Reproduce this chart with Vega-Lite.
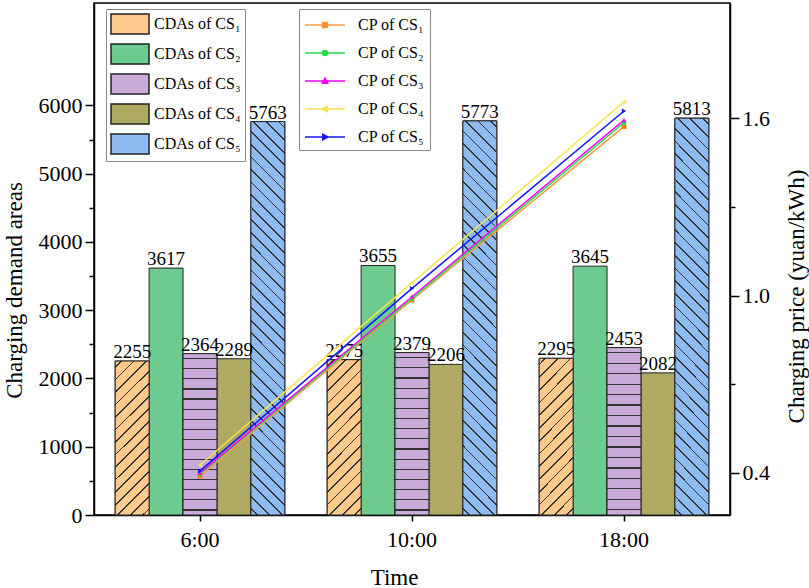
{
  "$schema": "https://vega.github.io/schema/vega-lite/v6.json",
  "width": 636,
  "height": 512,
  "autosize": {"type": "none"},
  "padding": {"left": 94, "top": 3, "right": 79, "bottom": 73},
  "background": "white",
  "datasets": {
    "cda": [
      {"time": "6:00", "cs": "CS₁", "cda": 2255},
      {"time": "6:00", "cs": "CS₂", "cda": 3617},
      {"time": "6:00", "cs": "CS₃", "cda": 2364},
      {"time": "6:00", "cs": "CS₄", "cda": 2289},
      {"time": "6:00", "cs": "CS₅", "cda": 5763},
      {"time": "10:00", "cs": "CS₁", "cda": 2275},
      {"time": "10:00", "cs": "CS₂", "cda": 3655},
      {"time": "10:00", "cs": "CS₃", "cda": 2379},
      {"time": "10:00", "cs": "CS₄", "cda": 2206},
      {"time": "10:00", "cs": "CS₅", "cda": 5773},
      {"time": "18:00", "cs": "CS₁", "cda": 2295},
      {"time": "18:00", "cs": "CS₂", "cda": 3645},
      {"time": "18:00", "cs": "CS₃", "cda": 2453},
      {"time": "18:00", "cs": "CS₄", "cda": 2082},
      {"time": "18:00", "cs": "CS₅", "cda": 5813}
    ],
    "cp": [
      {"time": "6:00", "series": "CS₁", "cp": 0.39},
      {"time": "10:00", "series": "CS₁", "cp": 0.985},
      {"time": "18:00", "series": "CS₁", "cp": 1.571},
      {"time": "6:00", "series": "CS₂", "cp": 0.397},
      {"time": "10:00", "series": "CS₂", "cp": 0.99},
      {"time": "18:00", "series": "CS₂", "cp": 1.584},
      {"time": "6:00", "series": "CS₃", "cp": 0.4},
      {"time": "10:00", "series": "CS₃", "cp": 0.996},
      {"time": "18:00", "series": "CS₃", "cp": 1.593},
      {"time": "6:00", "series": "CS₄", "cp": 0.427},
      {"time": "10:00", "series": "CS₄", "cp": 1.043},
      {"time": "18:00", "series": "CS₄", "cp": 1.655},
      {"time": "6:00", "series": "CS₅", "cp": 0.407},
      {"time": "10:00", "series": "CS₅", "cp": 1.024},
      {"time": "18:00", "series": "CS₅", "cp": 1.624}
    ]
  },
  "layer": [
    {
      "data": {"name": "cda"},
      "encoding": {
        "x": {
          "field": "time", "type": "nominal", "sort": ["6:00", "10:00", "18:00"],
          "scale": {"paddingInner": 0.2, "paddingOuter": 0.1},
          "axis": {"title": "Time", "labelAngle": 0, "tickSize": 6, "labelPadding": 8, "titleX": 300, "titleY": 62, "titleBaseline": "middle"}
        },
        "xOffset": {
          "field": "cs", "type": "nominal", "sort": ["CS₁", "CS₂", "CS₃", "CS₄", "CS₅"],
          "scale": {"paddingInner": 0, "paddingOuter": 0}
        },
        "y": {
          "field": "cda", "type": "quantitative",
          "scale": {"domain": [0, 7500], "nice": false},
          "axis": {
            "title": "Charging demand areas",
            "values": [0, 500, 1000, 1500, 2000, 2500, 3000, 3500, 4000, 4500, 5000, 5500, 6000],
            "labelExpr": "datum.value % 1000 === 0 ? format(datum.value, 'd') : ''",
            "tickSize": {"condition": {"test": "datum.value % 1000 === 0", "value": 9}, "value": 5},
            "labelPadding": 3,
            "titleX": -80, "titleY": 287, "titleBaseline": "middle", "titleAngle": 270
          }
        }
      },
      "layer": [
        {
          "mark": {"type": "bar", "stroke": "#222222", "strokeWidth": 1},
          "encoding": {
            "fill": {
              "field": "cs", "type": "nominal",
              "scale": {"domain": ["CS₁", "CS₂", "CS₃", "CS₄", "CS₅"], "range": ["#FFC98C", "#6DCB8F", "#C9ABD9", "#AFAA63", "#8EBCF2"]},
              "legend": {
                "title": null, "orient": "none", "legendX": 12, "legendY": 6,
                "symbolType": "M-1,-1H2.8V1H-1Z", "symbolSize": 400,
                "labelOffset": 22, "rowPadding": 4,
                "labelExpr": "'CDAs of ' + datum.label",
                "encode": {
                  "symbols": {
                    "update": {
                      "stroke": {"value": "#333333"},
                      "strokeWidth": {"value": 1},
                      "fill": [
                        {
                          "test": "datum.value === 'CS₁'",
                          "value": {
                            "gradient": "linear", "x1": 0, "y1": 0, "x2": 1.195, "y2": 0.629,
                            "stops": [
                              {"offset": 0, "color": "#FFC98C"},
                              {"offset": 0.11, "color": "#FFC98C"}, {"offset": 0.11, "color": "#333333"}, {"offset": 0.14, "color": "#333333"}, {"offset": 0.14, "color": "#FFC98C"},
                              {"offset": 0.36, "color": "#FFC98C"}, {"offset": 0.36, "color": "#333333"}, {"offset": 0.39, "color": "#333333"}, {"offset": 0.39, "color": "#FFC98C"},
                              {"offset": 0.61, "color": "#FFC98C"}, {"offset": 0.61, "color": "#333333"}, {"offset": 0.64, "color": "#333333"}, {"offset": 0.64, "color": "#FFC98C"},
                              {"offset": 0.86, "color": "#FFC98C"}, {"offset": 0.86, "color": "#333333"}, {"offset": 0.89, "color": "#333333"}, {"offset": 0.89, "color": "#FFC98C"},
                              {"offset": 1, "color": "#FFC98C"}
                            ]
                          }
                        },
                        {"test": "datum.value === 'CS₂'", "value": "#6DCB8F"},
                        {
                          "test": "datum.value === 'CS₃'",
                          "value": {
                            "gradient": "linear", "x1": 0, "y1": 0, "x2": 0, "y2": 1,
                            "stops": [
                              {"offset": 0, "color": "#C9ABD9"},
                              {"offset": 0.47, "color": "#C9ABD9"}, {"offset": 0.47, "color": "#333333"}, {"offset": 0.53, "color": "#333333"}, {"offset": 0.53, "color": "#C9ABD9"},
                              {"offset": 1, "color": "#C9ABD9"}
                            ]
                          }
                        },
                        {"test": "datum.value === 'CS₄'", "value": "#AFAA63"},
                        {
                          "value": {
                            "gradient": "linear", "x1": 0, "y1": 1, "x2": 1.195, "y2": 0.371,
                            "stops": [
                              {"offset": 0, "color": "#8EBCF2"},
                              {"offset": 0.11, "color": "#8EBCF2"}, {"offset": 0.11, "color": "#333333"}, {"offset": 0.14, "color": "#333333"}, {"offset": 0.14, "color": "#8EBCF2"},
                              {"offset": 0.36, "color": "#8EBCF2"}, {"offset": 0.36, "color": "#333333"}, {"offset": 0.39, "color": "#333333"}, {"offset": 0.39, "color": "#8EBCF2"},
                              {"offset": 0.61, "color": "#8EBCF2"}, {"offset": 0.61, "color": "#333333"}, {"offset": 0.64, "color": "#333333"}, {"offset": 0.64, "color": "#8EBCF2"},
                              {"offset": 0.86, "color": "#8EBCF2"}, {"offset": 0.86, "color": "#333333"}, {"offset": 0.89, "color": "#333333"}, {"offset": 0.89, "color": "#8EBCF2"},
                              {"offset": 1, "color": "#8EBCF2"}
                            ]
                          }
                        }
                      ]
                    }
                  }
                }
              }
            }
          }
        },
        {
          "transform": [{"filter": {"field": "cs", "oneOf": ["CS₁", "CS₃", "CS₅"]}}],
          "mark": {"type": "bar", "stroke": "#222222", "strokeWidth": 1},
          "encoding": {
            "fill": {
              "condition": [
                {
                  "test": "datum.cs === 'CS₁'",
                  "value": {
                    "gradient": "linear", "x1": 0, "y1": 0, "x2": 0.2553, "y2": 1.1634,
                    "stops": [
                      {"offset": 0, "color": "#FFC98C"},
                      {"offset": 0.0288, "color": "#FFC98C"}, {"offset": 0.0288, "color": "#333333"}, {"offset": 0.0378, "color": "#333333"}, {"offset": 0.0378, "color": "#FFC98C"},
                      {"offset": 0.0955, "color": "#FFC98C"}, {"offset": 0.0955, "color": "#333333"}, {"offset": 0.1045, "color": "#333333"}, {"offset": 0.1045, "color": "#FFC98C"},
                      {"offset": 0.1622, "color": "#FFC98C"}, {"offset": 0.1622, "color": "#333333"}, {"offset": 0.1712, "color": "#333333"}, {"offset": 0.1712, "color": "#FFC98C"},
                      {"offset": 0.2288, "color": "#FFC98C"}, {"offset": 0.2288, "color": "#333333"}, {"offset": 0.2378, "color": "#333333"}, {"offset": 0.2378, "color": "#FFC98C"},
                      {"offset": 0.2955, "color": "#FFC98C"}, {"offset": 0.2955, "color": "#333333"}, {"offset": 0.3045, "color": "#333333"}, {"offset": 0.3045, "color": "#FFC98C"},
                      {"offset": 0.3622, "color": "#FFC98C"}, {"offset": 0.3622, "color": "#333333"}, {"offset": 0.3712, "color": "#333333"}, {"offset": 0.3712, "color": "#FFC98C"},
                      {"offset": 0.4288, "color": "#FFC98C"}, {"offset": 0.4288, "color": "#333333"}, {"offset": 0.4378, "color": "#333333"}, {"offset": 0.4378, "color": "#FFC98C"},
                      {"offset": 0.4955, "color": "#FFC98C"}, {"offset": 0.4955, "color": "#333333"}, {"offset": 0.5045, "color": "#333333"}, {"offset": 0.5045, "color": "#FFC98C"},
                      {"offset": 0.5622, "color": "#FFC98C"}, {"offset": 0.5622, "color": "#333333"}, {"offset": 0.5712, "color": "#333333"}, {"offset": 0.5712, "color": "#FFC98C"},
                      {"offset": 0.6288, "color": "#FFC98C"}, {"offset": 0.6288, "color": "#333333"}, {"offset": 0.6378, "color": "#333333"}, {"offset": 0.6378, "color": "#FFC98C"},
                      {"offset": 0.6955, "color": "#FFC98C"}, {"offset": 0.6955, "color": "#333333"}, {"offset": 0.7045, "color": "#333333"}, {"offset": 0.7045, "color": "#FFC98C"},
                      {"offset": 0.7622, "color": "#FFC98C"}, {"offset": 0.7622, "color": "#333333"}, {"offset": 0.7712, "color": "#333333"}, {"offset": 0.7712, "color": "#FFC98C"},
                      {"offset": 0.8288, "color": "#FFC98C"}, {"offset": 0.8288, "color": "#333333"}, {"offset": 0.8378, "color": "#333333"}, {"offset": 0.8378, "color": "#FFC98C"},
                      {"offset": 0.8955, "color": "#FFC98C"}, {"offset": 0.8955, "color": "#333333"}, {"offset": 0.9045, "color": "#333333"}, {"offset": 0.9045, "color": "#FFC98C"},
                      {"offset": 0.9622, "color": "#FFC98C"}, {"offset": 0.9622, "color": "#333333"}, {"offset": 0.9712, "color": "#333333"}, {"offset": 0.9712, "color": "#FFC98C"},
                      {"offset": 1, "color": "#FFC98C"}
                    ]
                  }
                },
                {
                  "test": "datum.cs === 'CS₃'",
                  "value": {
                    "gradient": "linear", "x1": 0, "y1": 0, "x2": 0, "y2": 1,
                    "stops": [
                      {"offset": 0, "color": "#C9ABD9"},
                      {"offset": 0.0276, "color": "#C9ABD9"}, {"offset": 0.0276, "color": "#333333"}, {"offset": 0.035, "color": "#333333"}, {"offset": 0.035, "color": "#C9ABD9"},
                      {"offset": 0.0901, "color": "#C9ABD9"}, {"offset": 0.0901, "color": "#333333"}, {"offset": 0.0975, "color": "#333333"}, {"offset": 0.0975, "color": "#C9ABD9"},
                      {"offset": 0.1526, "color": "#C9ABD9"}, {"offset": 0.1526, "color": "#333333"}, {"offset": 0.16, "color": "#333333"}, {"offset": 0.16, "color": "#C9ABD9"},
                      {"offset": 0.2151, "color": "#C9ABD9"}, {"offset": 0.2151, "color": "#333333"}, {"offset": 0.2225, "color": "#333333"}, {"offset": 0.2225, "color": "#C9ABD9"},
                      {"offset": 0.2776, "color": "#C9ABD9"}, {"offset": 0.2776, "color": "#333333"}, {"offset": 0.285, "color": "#333333"}, {"offset": 0.285, "color": "#C9ABD9"},
                      {"offset": 0.3401, "color": "#C9ABD9"}, {"offset": 0.3401, "color": "#333333"}, {"offset": 0.3475, "color": "#333333"}, {"offset": 0.3475, "color": "#C9ABD9"},
                      {"offset": 0.4026, "color": "#C9ABD9"}, {"offset": 0.4026, "color": "#333333"}, {"offset": 0.41, "color": "#333333"}, {"offset": 0.41, "color": "#C9ABD9"},
                      {"offset": 0.4651, "color": "#C9ABD9"}, {"offset": 0.4651, "color": "#333333"}, {"offset": 0.4725, "color": "#333333"}, {"offset": 0.4725, "color": "#C9ABD9"},
                      {"offset": 0.5276, "color": "#C9ABD9"}, {"offset": 0.5276, "color": "#333333"}, {"offset": 0.535, "color": "#333333"}, {"offset": 0.535, "color": "#C9ABD9"},
                      {"offset": 0.5901, "color": "#C9ABD9"}, {"offset": 0.5901, "color": "#333333"}, {"offset": 0.5975, "color": "#333333"}, {"offset": 0.5975, "color": "#C9ABD9"},
                      {"offset": 0.6526, "color": "#C9ABD9"}, {"offset": 0.6526, "color": "#333333"}, {"offset": 0.66, "color": "#333333"}, {"offset": 0.66, "color": "#C9ABD9"},
                      {"offset": 0.7151, "color": "#C9ABD9"}, {"offset": 0.7151, "color": "#333333"}, {"offset": 0.7225, "color": "#333333"}, {"offset": 0.7225, "color": "#C9ABD9"},
                      {"offset": 0.7776, "color": "#C9ABD9"}, {"offset": 0.7776, "color": "#333333"}, {"offset": 0.785, "color": "#333333"}, {"offset": 0.785, "color": "#C9ABD9"},
                      {"offset": 0.8401, "color": "#C9ABD9"}, {"offset": 0.8401, "color": "#333333"}, {"offset": 0.8475, "color": "#333333"}, {"offset": 0.8475, "color": "#C9ABD9"},
                      {"offset": 0.9026, "color": "#C9ABD9"}, {"offset": 0.9026, "color": "#333333"}, {"offset": 0.91, "color": "#333333"}, {"offset": 0.91, "color": "#C9ABD9"},
                      {"offset": 0.9651, "color": "#C9ABD9"}, {"offset": 0.9651, "color": "#333333"}, {"offset": 0.9725, "color": "#333333"}, {"offset": 0.9725, "color": "#C9ABD9"},
                      {"offset": 1, "color": "#C9ABD9"}
                    ]
                  }
                }
              ],
              "value": {
                "gradient": "linear", "x1": 0, "y1": 1, "x2": 0.0931, "y2": -0.0783,
                "stops": [
                  {"offset": 0, "color": "#8EBCF2"},
                  {"offset": 0.0127, "color": "#8EBCF2"}, {"offset": 0.0127, "color": "#333333"}, {"offset": 0.0167, "color": "#333333"}, {"offset": 0.0167, "color": "#8EBCF2"},
                  {"offset": 0.0421, "color": "#8EBCF2"}, {"offset": 0.0421, "color": "#333333"}, {"offset": 0.0461, "color": "#333333"}, {"offset": 0.0461, "color": "#8EBCF2"},
                  {"offset": 0.0715, "color": "#8EBCF2"}, {"offset": 0.0715, "color": "#333333"}, {"offset": 0.0755, "color": "#333333"}, {"offset": 0.0755, "color": "#8EBCF2"},
                  {"offset": 0.1009, "color": "#8EBCF2"}, {"offset": 0.1009, "color": "#333333"}, {"offset": 0.1049, "color": "#333333"}, {"offset": 0.1049, "color": "#8EBCF2"},
                  {"offset": 0.1304, "color": "#8EBCF2"}, {"offset": 0.1304, "color": "#333333"}, {"offset": 0.1344, "color": "#333333"}, {"offset": 0.1344, "color": "#8EBCF2"},
                  {"offset": 0.1598, "color": "#8EBCF2"}, {"offset": 0.1598, "color": "#333333"}, {"offset": 0.1638, "color": "#333333"}, {"offset": 0.1638, "color": "#8EBCF2"},
                  {"offset": 0.1892, "color": "#8EBCF2"}, {"offset": 0.1892, "color": "#333333"}, {"offset": 0.1932, "color": "#333333"}, {"offset": 0.1932, "color": "#8EBCF2"},
                  {"offset": 0.2186, "color": "#8EBCF2"}, {"offset": 0.2186, "color": "#333333"}, {"offset": 0.2226, "color": "#333333"}, {"offset": 0.2226, "color": "#8EBCF2"},
                  {"offset": 0.248, "color": "#8EBCF2"}, {"offset": 0.248, "color": "#333333"}, {"offset": 0.252, "color": "#333333"}, {"offset": 0.252, "color": "#8EBCF2"},
                  {"offset": 0.2774, "color": "#8EBCF2"}, {"offset": 0.2774, "color": "#333333"}, {"offset": 0.2814, "color": "#333333"}, {"offset": 0.2814, "color": "#8EBCF2"},
                  {"offset": 0.3068, "color": "#8EBCF2"}, {"offset": 0.3068, "color": "#333333"}, {"offset": 0.3108, "color": "#333333"}, {"offset": 0.3108, "color": "#8EBCF2"},
                  {"offset": 0.3362, "color": "#8EBCF2"}, {"offset": 0.3362, "color": "#333333"}, {"offset": 0.3402, "color": "#333333"}, {"offset": 0.3402, "color": "#8EBCF2"},
                  {"offset": 0.3656, "color": "#8EBCF2"}, {"offset": 0.3656, "color": "#333333"}, {"offset": 0.3696, "color": "#333333"}, {"offset": 0.3696, "color": "#8EBCF2"},
                  {"offset": 0.3951, "color": "#8EBCF2"}, {"offset": 0.3951, "color": "#333333"}, {"offset": 0.3991, "color": "#333333"}, {"offset": 0.3991, "color": "#8EBCF2"},
                  {"offset": 0.4245, "color": "#8EBCF2"}, {"offset": 0.4245, "color": "#333333"}, {"offset": 0.4285, "color": "#333333"}, {"offset": 0.4285, "color": "#8EBCF2"},
                  {"offset": 0.4539, "color": "#8EBCF2"}, {"offset": 0.4539, "color": "#333333"}, {"offset": 0.4579, "color": "#333333"}, {"offset": 0.4579, "color": "#8EBCF2"},
                  {"offset": 0.4833, "color": "#8EBCF2"}, {"offset": 0.4833, "color": "#333333"}, {"offset": 0.4873, "color": "#333333"}, {"offset": 0.4873, "color": "#8EBCF2"},
                  {"offset": 0.5127, "color": "#8EBCF2"}, {"offset": 0.5127, "color": "#333333"}, {"offset": 0.5167, "color": "#333333"}, {"offset": 0.5167, "color": "#8EBCF2"},
                  {"offset": 0.5421, "color": "#8EBCF2"}, {"offset": 0.5421, "color": "#333333"}, {"offset": 0.5461, "color": "#333333"}, {"offset": 0.5461, "color": "#8EBCF2"},
                  {"offset": 0.5715, "color": "#8EBCF2"}, {"offset": 0.5715, "color": "#333333"}, {"offset": 0.5755, "color": "#333333"}, {"offset": 0.5755, "color": "#8EBCF2"},
                  {"offset": 0.6009, "color": "#8EBCF2"}, {"offset": 0.6009, "color": "#333333"}, {"offset": 0.6049, "color": "#333333"}, {"offset": 0.6049, "color": "#8EBCF2"},
                  {"offset": 0.6304, "color": "#8EBCF2"}, {"offset": 0.6304, "color": "#333333"}, {"offset": 0.6344, "color": "#333333"}, {"offset": 0.6344, "color": "#8EBCF2"},
                  {"offset": 0.6598, "color": "#8EBCF2"}, {"offset": 0.6598, "color": "#333333"}, {"offset": 0.6638, "color": "#333333"}, {"offset": 0.6638, "color": "#8EBCF2"},
                  {"offset": 0.6892, "color": "#8EBCF2"}, {"offset": 0.6892, "color": "#333333"}, {"offset": 0.6932, "color": "#333333"}, {"offset": 0.6932, "color": "#8EBCF2"},
                  {"offset": 0.7186, "color": "#8EBCF2"}, {"offset": 0.7186, "color": "#333333"}, {"offset": 0.7226, "color": "#333333"}, {"offset": 0.7226, "color": "#8EBCF2"},
                  {"offset": 0.748, "color": "#8EBCF2"}, {"offset": 0.748, "color": "#333333"}, {"offset": 0.752, "color": "#333333"}, {"offset": 0.752, "color": "#8EBCF2"},
                  {"offset": 0.7774, "color": "#8EBCF2"}, {"offset": 0.7774, "color": "#333333"}, {"offset": 0.7814, "color": "#333333"}, {"offset": 0.7814, "color": "#8EBCF2"},
                  {"offset": 0.8068, "color": "#8EBCF2"}, {"offset": 0.8068, "color": "#333333"}, {"offset": 0.8108, "color": "#333333"}, {"offset": 0.8108, "color": "#8EBCF2"},
                  {"offset": 0.8362, "color": "#8EBCF2"}, {"offset": 0.8362, "color": "#333333"}, {"offset": 0.8402, "color": "#333333"}, {"offset": 0.8402, "color": "#8EBCF2"},
                  {"offset": 0.8656, "color": "#8EBCF2"}, {"offset": 0.8656, "color": "#333333"}, {"offset": 0.8696, "color": "#333333"}, {"offset": 0.8696, "color": "#8EBCF2"},
                  {"offset": 0.8951, "color": "#8EBCF2"}, {"offset": 0.8951, "color": "#333333"}, {"offset": 0.8991, "color": "#333333"}, {"offset": 0.8991, "color": "#8EBCF2"},
                  {"offset": 0.9245, "color": "#8EBCF2"}, {"offset": 0.9245, "color": "#333333"}, {"offset": 0.9285, "color": "#333333"}, {"offset": 0.9285, "color": "#8EBCF2"},
                  {"offset": 0.9539, "color": "#8EBCF2"}, {"offset": 0.9539, "color": "#333333"}, {"offset": 0.9579, "color": "#333333"}, {"offset": 0.9579, "color": "#8EBCF2"},
                  {"offset": 0.9833, "color": "#8EBCF2"}, {"offset": 0.9833, "color": "#333333"}, {"offset": 0.9873, "color": "#333333"}, {"offset": 0.9873, "color": "#8EBCF2"},
                  {"offset": 1, "color": "#8EBCF2"}
                ]
              }
            }
          }
        },
        {
          "mark": {"type": "text", "baseline": "alphabetic", "dy": -3, "font": "Liberation Serif", "fontSize": 19, "color": "black"},
          "encoding": {"text": {"field": "cda", "type": "quantitative", "format": "d"}}
        }
      ]
    },
    {
      "data": {"name": "cp"},
      "encoding": {
        "x": {"field": "time", "type": "nominal", "sort": ["6:00", "10:00", "18:00"]},
        "y": {
          "field": "cp", "type": "quantitative",
          "scale": {"domain": [0.258, 1.989], "nice": false, "zero": false},
          "axis": {
            "orient": "right",
            "title": "Charging price (yuan/kWh)",
            "values": [0.4, 0.7, 1.0, 1.3, 1.6],
            "labelExpr": "(abs(datum.value - 0.7) < 0.01 || abs(datum.value - 1.3) < 0.01) ? '' : format(datum.value, '.1f')",
            "tickSize": {"condition": {"test": "abs(datum.value - 0.7) < 0.01 || abs(datum.value - 1.3) < 0.01", "value": 5}, "value": 9},
            "labelPadding": 3,
            "titleAngle": 270, "titleX": 66, "titleY": 293, "titleBaseline": "middle"
          }
        }
      },
      "layer": [
        {
          "mark": {"type": "line", "strokeWidth": 1.5},
          "encoding": {
            "order": {"value": null},
            "stroke": {
              "field": "series", "type": "nominal",
              "scale": {"domain": ["CS₁", "CS₂", "CS₃", "CS₄", "CS₅"], "range": ["#FF9A3C", "#1FE04B", "#FF00FF", "#F7E34B", "#1414FF"]},
              "legend": {
                "title": null, "orient": "none", "legendX": 205, "legendY": 6,
                "symbolSize": 400, "symbolStrokeWidth": 1.5,
                "labelOffset": 32, "rowPadding": 9, "padding": 5,
                "labelExpr": "'CP of ' + datum.label",
                "encode": {
                  "symbols": {
                    "update": {
                      "shape": {"signal": "['M-1,0H3M0.75,-0.25H1.25V0.25H0.75Z','M-1,0H3M1.25,0A0.25,0.25,0,1,1,0.75,0A0.25,0.25,0,1,1,1.25,0Z','M-1,0H3M1,-0.3L1.28,0.22H0.72Z','M-1,0H3M0.7,0L1.22,-0.28V0.28Z','M-1,0H3M1.3,0L0.78,-0.28V0.28Z'][indexof(['CS₁','CS₂','CS₃','CS₄','CS₅'], datum.value)]"},
                      "fill": {"signal": "['#FF7F0E','#1FE04B','#FF00FF','#F7E34B','#1414FF'][indexof(['CS₁','CS₂','CS₃','CS₄','CS₅'], datum.value)]"}
                    }
                  }
                }
              }
            }
          }
        },
        {
          "mark": {"type": "point", "filled": true, "size": 24, "opacity": 1},
          "encoding": {
            "color": {
              "field": "series", "type": "nominal",
              "scale": {"domain": ["CS₁", "CS₂", "CS₃", "CS₄", "CS₅"], "range": ["#FF7F0E", "#1FE04B", "#FF00FF", "#F7E34B", "#1414FF"]},
              "legend": null
            },
            "shape": {
              "field": "series", "type": "nominal",
              "scale": {"domain": ["CS₁", "CS₂", "CS₃", "CS₄", "CS₅"], "range": ["square", "circle", "triangle-up", "triangle-left", "triangle-right"]},
              "legend": null
            }
          }
        }
      ]
    }
  ],
  "resolve": {"scale": {"y": "independent"}, "legend": {"fill": "independent", "stroke": "independent"}},
  "config": {
    "view": {"stroke": "black", "strokeWidth": 1.5},
    "font": "Liberation Serif",
    "axis": {
      "grid": false,
      "domainColor": "black", "domainWidth": 1.5,
      "tickColor": "black", "tickWidth": 1.5,
      "labelFont": "Liberation Serif", "labelFontSize": 22, "labelColor": "black",
      "titleFont": "Liberation Serif", "titleFontSize": 23, "titleFontWeight": "normal", "titleColor": "black"
    },
    "legend": {
      "labelFont": "Liberation Serif", "labelFontSize": 16, "labelColor": "black",
      "strokeColor": "#8a8a8a", "fillColor": "white", "padding": 4
    }
  }
}
